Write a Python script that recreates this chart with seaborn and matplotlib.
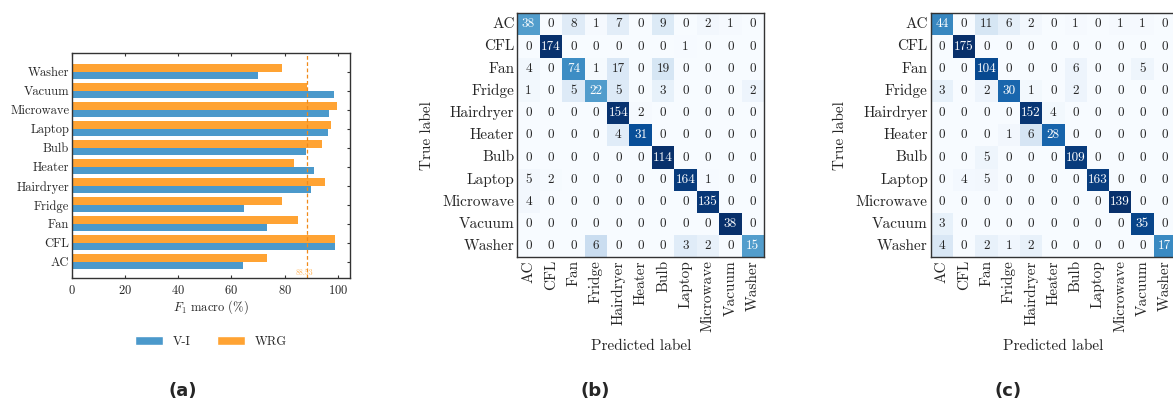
import numpy as np
import pandas as pd
import matplotlib
matplotlib.use("Agg")
import matplotlib.pyplot as plt
from matplotlib.patches import Patch
import seaborn as sns

# ---------------- data ----------------
appliances = ["AC", "CFL", "Fan", "Fridge", "Hairdryer", "Heater", "Bulb",
              "Laptop", "Microwave", "Vacuum", "Washer"]
f1_vi = [64.4, 99.1, 73.3, 64.7, 89.8, 91.2, 88.0, 96.5, 96.8, 98.7, 69.8]
f1_wrg = [73.3, 98.9, 85.2, 78.9, 95.3, 83.6, 94.0, 97.3, 99.6, 88.6, 79.1]
wrg_macro = 88.53
x_ticks = [0, 20, 40, 60, 80, 100]

cm_vi = [
    [38, 0, 8, 1, 7, 0, 9, 0, 2, 1, 0],
    [0, 174, 0, 0, 0, 0, 0, 1, 0, 0, 0],
    [4, 0, 74, 1, 17, 0, 19, 0, 0, 0, 0],
    [1, 0, 5, 22, 5, 0, 3, 0, 0, 0, 2],
    [0, 0, 0, 0, 154, 2, 0, 0, 0, 0, 0],
    [0, 0, 0, 0, 4, 31, 0, 0, 0, 0, 0],
    [0, 0, 0, 0, 0, 0, 114, 0, 0, 0, 0],
    [5, 2, 0, 0, 0, 0, 0, 164, 1, 0, 0],
    [4, 0, 0, 0, 0, 0, 0, 0, 135, 0, 0],
    [0, 0, 0, 0, 0, 0, 0, 0, 0, 38, 0],
    [0, 0, 0, 6, 0, 0, 0, 3, 2, 0, 15],
]
cm_wrg = [
    [44, 0, 11, 6, 2, 0, 1, 0, 1, 1, 0],
    [0, 175, 0, 0, 0, 0, 0, 0, 0, 0, 0],
    [0, 0, 104, 0, 0, 0, 6, 0, 0, 5, 0],
    [3, 0, 2, 30, 1, 0, 2, 0, 0, 0, 0],
    [0, 0, 0, 0, 152, 4, 0, 0, 0, 0, 0],
    [0, 0, 0, 1, 6, 28, 0, 0, 0, 0, 0],
    [0, 0, 5, 0, 0, 0, 109, 0, 0, 0, 0],
    [0, 4, 5, 0, 0, 0, 0, 163, 0, 0, 0],
    [0, 0, 0, 0, 0, 0, 0, 0, 139, 0, 0],
    [3, 0, 0, 0, 0, 0, 0, 0, 0, 35, 0],
    [4, 0, 2, 1, 2, 0, 0, 0, 0, 0, 17],
]

BLUE = "#4b99cb"
ORANGE = "#ffa333"
SPINE = "#333333"

# ---------------- style ----------------
sns.set_style("ticks")
plt.rcParams["font.family"] = ["cmr10", "DejaVu Serif"]
plt.rcParams["mathtext.fontset"] = "cm"
plt.rcParams["axes.formatter.use_mathtext"] = True
plt.rcParams["axes.unicode_minus"] = False

fig = plt.figure(figsize=(11.73, 4.01), dpi=100)
W, H = 1173.0, 401.0


def add_ax(left, top, right, bottom):
    return fig.add_axes([left / W, (H - bottom) / H, (right - left) / W, (bottom - top) / H])


# ---------------- panel (a) ----------------
ax_a = add_ax(72, 53, 350, 278.3)
order_top = appliances[::-1]
df = pd.DataFrame({
    "appliance": appliances * 2,
    "f1": f1_vi + f1_wrg,
    "model": ["V-I"] * len(appliances) + ["WRG"] * len(appliances),
})
sns.barplot(data=df, y="appliance", x="f1", hue="model", order=order_top,
            hue_order=["WRG", "V-I"], palette={"V-I": BLUE, "WRG": ORANGE},
            orient="h", width=0.8, saturation=1, linewidth=0, legend=False,
            ax=ax_a)
ax_a.set_xlim(0, 104.6)
ax_a.set_ylim(10.87, -0.98)
ax_a.set_xticks(x_ticks)
ax_a.set_ylabel("")
ax_a.set_xlabel(r"$F_1$ macro (%)", fontsize=9, labelpad=1)
ax_a.tick_params(direction="in", top=True, right=True, length=2.5, width=0.8,
                 labelsize=9, pad=2, color=SPINE)
ax_a.tick_params(axis="x", pad=4)
for s in ax_a.spines.values():
    s.set_visible(True)
    s.set_color(SPINE)
    s.set_linewidth(1.0)
ax_a.axvline(wrg_macro, color="#f08a1a", ls=(0, (3, 2)), lw=0.9)
ax_a.annotate(f"{wrg_macro:.2f}", xy=(wrg_macro, 0), xycoords=("data", "axes fraction"),
              xytext=(-2, 1), textcoords="offset points", ha="center", va="bottom",
              fontsize=5.5, color=ORANGE, alpha=0.8)
handles = [Patch(facecolor=BLUE, label="V-I"), Patch(facecolor=ORANGE, label="WRG")]
ax_a.legend(handles=handles, loc="center", bbox_to_anchor=(0.5, -0.283), ncol=2,
            frameon=False, fontsize=9, handlelength=2.2, handleheight=0.75,
            handletextpad=0.8, columnspacing=2.1)

# ---------------- panels (b), (c) ----------------
def conf_panel(ax, cm, ylab_x):
    cm = np.array(cm)
    norm = cm / cm.sum(axis=1, keepdims=True)
    sns.heatmap(norm, annot=cm, fmt="d", cmap="Blues", vmin=0, vmax=1, cbar=False,
                ax=ax, annot_kws={"size": 9.5}, xticklabels=appliances,
                yticklabels=appliances)
    ax.set_xticklabels(appliances, rotation=90, fontsize=11)
    ax.set_yticklabels(appliances, rotation=0, fontsize=11)
    ax.tick_params(direction="in", left=True, right=True, bottom=True, top=False,
                   length=2.5, width=0.8, pad=2, color=SPINE)
    for s in ax.spines.values():
        s.set_visible(True)
        s.set_color(SPINE)
        s.set_linewidth(1.0)
    ax.set_xlabel("Predicted label", fontsize=11)
    ax.set_ylabel("True label", fontsize=11)
    ax.xaxis.set_label_coords(0.5, -0.335)
    ax.yaxis.set_label_coords(ylab_x, 0.5)


ax_b = add_ax(517.3, 13.3, 764.1, 257.3)
conf_panel(ax_b, cm_vi, -0.3375)
ax_c = add_ax(930.7, 13.3, 1176.0, 257.3)
conf_panel(ax_c, cm_wrg, -0.342)

# ---------------- sub-captions ----------------
for x, lab in [(183, "(a)"), (595, "(b)"), (1008, "(c)")]:
    fig.text(x / W, (H - 391) / H, lab, ha="center", va="center", fontsize=13,
             fontweight="bold", family="DejaVu Sans")

fig.savefig("out.png", dpi=100)
